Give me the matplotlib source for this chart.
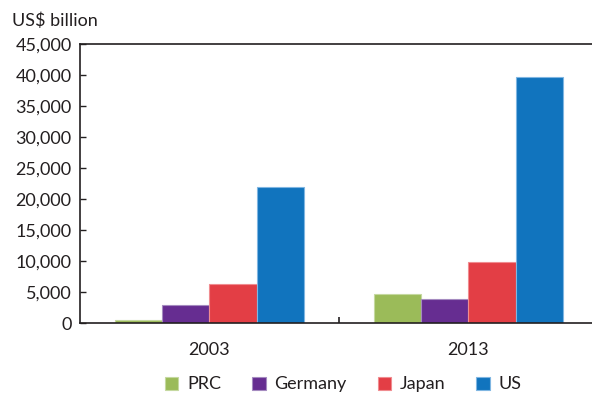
import numpy as np
import matplotlib.pyplot as plt
from matplotlib.ticker import FuncFormatter

plt.rcParams['font.family'] = ['Lato', 'DejaVu Sans']

# Datos (US$ billion)
years = ["2003", "2013"]
countries = ["PRC", "Germany", "Japan", "US"]
prc = [450, 4650]
germany = [2950, 3850]
japan = [6350, 9850]
us = [21900, 39650]
series = [prc, germany, japan, us]
colors = ["#9BBB59", "#662D91", "#E33E45", "#1174BE"]
edges = ["#C5D9A0", "#A58BC0", "#F08C90", "#7FB6E2"]

fig = plt.figure(figsize=(5.92, 3.93), dpi=100)
ax = fig.add_axes([80 / 592, 70 / 393, 512 / 592, 279 / 393])

x = np.arange(len(years))
width = 0.73 / len(countries)
for i, (name, vals) in enumerate(zip(countries, series)):
    pos = x - 0.365 + width * (i + 0.5)
    ax.bar(pos, vals, width, color=colors[i], edgecolor=edges[i],
           linewidth=0.8, label=name, zorder=2)

ax.set_ylim(0, 45000)
ax.set_xlim(-0.5, 1.477)
ax.set_yticks(np.arange(0, 45001, 5000))
ax.yaxis.set_major_formatter(FuncFormatter(lambda v, p: f"{int(v):,}"))
ax.set_xticks(x)
ax.set_xticklabels(years)
ax.set_xticks([0.5], minor=True)
ax.tick_params(axis='x', which='major', length=0, pad=14, labelsize=13, colors="#231F20")
ax.tick_params(axis='x', which='minor', direction='in', length=4, width=1.2, color="#231F20")
ax.tick_params(axis='y', direction='in', length=4, width=1, labelsize=13, colors="#231F20", pad=6)

for s in ["left", "top", "bottom"]:
    ax.spines[s].set_color("#231F20")
    ax.spines[s].set_linewidth(1.2)
ax.spines["right"].set_visible(False)

ax.text(-0.132, 1.055, "US$ billion", transform=ax.transAxes, fontsize=13,
        color="#231F20", ha='left', va='bottom')

fig.legend(loc='lower center', bbox_to_anchor=(0.58, -0.04), ncol=4, frameon=False,
           fontsize=13, handlelength=0.75, handleheight=0.75, handletextpad=0.5,
           columnspacing=1.7, labelcolor="#231F20")

fig.savefig("out.png", dpi=100)
